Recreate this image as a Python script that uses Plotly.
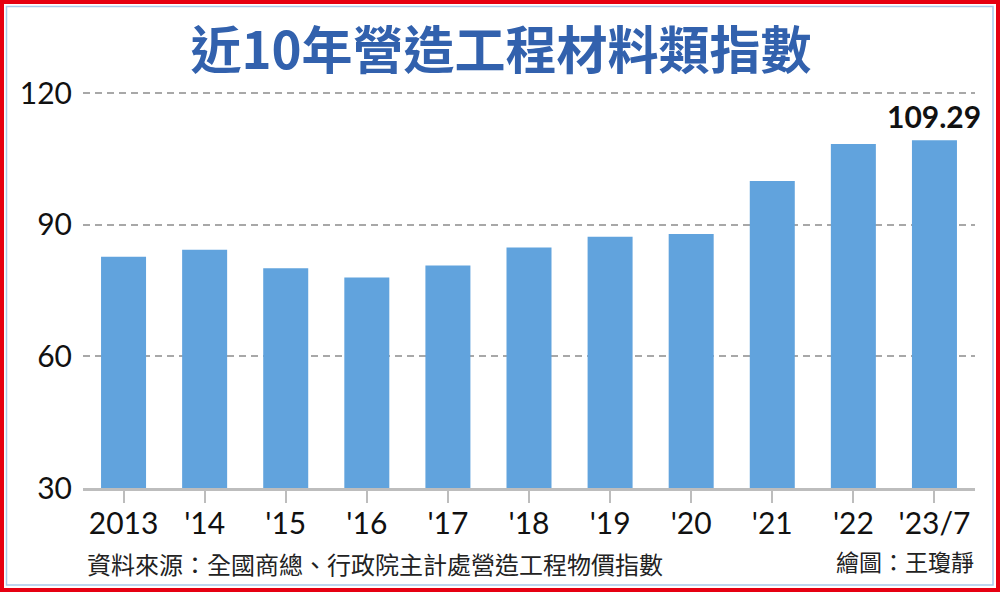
import plotly.graph_objects as go

categories = ["2013", "'14", "'15", "'16", "'17", "'18", "'19", "'20", "'21", "'22", "'23/7"]
values = [82.7, 84.3, 80.1, 78.0, 80.7, 84.8, 87.3, 87.9, 100.0, 108.4, 109.29]
y_ticks = [30, 60, 90, 120]
title_text = "近10年營造工程材料類指數"
source_text = "資料來源：全國商總、行政院主計處營造工程物價指數"
credit_text = "繪圖：王瓊靜"
highlight_label = "109.29"

W, H = 1000, 592
L, R, T, B = 83, 25, 91, 104
PW, PH = W - L - R, H - T - B


def px(x):
    return (x - L) / PW


def py(y):
    return (H - B - y) / PH


num_font = "Lato, 'Open Sans', sans-serif"
cjk_font = "'Noto Sans CJK TC', 'Noto Sans CJK SC', sans-serif"

fig = go.Figure()
fig.add_trace(go.Bar(
    x=categories,
    y=values,
    marker=dict(color="#61a3dd", line=dict(width=0)),
    hoverinfo="x+y",
))

fig.add_annotation(
    x=categories[-1], y=values[-1], xref="x", yref="y",
    text="<b>" + highlight_label + "</b>", showarrow=False,
    yanchor="bottom", yshift=4,
    font=dict(family=num_font, size=30, color="#111111"),
)

fig.add_annotation(
    x=px(85), y=py(563), xref="paper", yref="paper",
    text=source_text, showarrow=False, xanchor="left", yanchor="middle",
    font=dict(family=cjk_font, size=24, color="#222222"),
)
fig.add_annotation(
    x=px(976), y=py(561), xref="paper", yref="paper",
    text=credit_text, showarrow=False, xanchor="right", yanchor="middle",
    font=dict(family=cjk_font, size=23, color="#222222"),
)

# frame decoration
fig.add_shape(type="rect", xref="paper", yref="paper",
              x0=px(2), x1=px(998), y0=py(590), y1=py(2),
              line=dict(color="#e60012", width=4), layer="below")
fig.add_shape(type="rect", xref="paper", yref="paper",
              x0=px(6.5), x1=px(993), y0=py(585), y1=py(6.5),
              line=dict(color="#a9c9ea", width=1.5), layer="below")

fig.update_layout(
    width=W, height=H,
    margin=dict(l=L, r=R, t=T, b=B, pad=0),
    paper_bgcolor="white", plot_bgcolor="white",
    bargap=0.445,
    showlegend=False,
    title=dict(
        text="<b>" + title_text + "</b>",
        x=0.501, xref="container", xanchor="center",
        y=1 - 51 / H, yref="container", yanchor="middle",
        font=dict(family=cjk_font, size=51, color="#3261ad"),
    ),
    xaxis=dict(
        type="category",
        range=[-0.5, len(categories) - 0.5],
        showline=True, linecolor="#bdbdbd", linewidth=2.5,
        ticks="outside", ticklen=12, tickwidth=2, tickcolor="#bdbdbd",
        tickfont=dict(family=num_font, size=30, color="#111111"),
        ticklabelstandoff=-5,
        showgrid=False, fixedrange=True,
    ),
    yaxis=dict(
        range=[30, 120.5],
        tickvals=y_ticks,
        ticks="",
        tickfont=dict(family=num_font, size=30, color="#111111"),
        ticklabelstandoff=10,
        showgrid=True, gridcolor="#a8a8a8", gridwidth=1.5, griddash="7px,5px",
        zeroline=False, showline=False, fixedrange=True,
    ),
)

fig.write_html(
    "out.html",
    config={"displayModeBar": False},
    post_script="document.body.style.margin='0';document.body.style.overflow='hidden';",
)
